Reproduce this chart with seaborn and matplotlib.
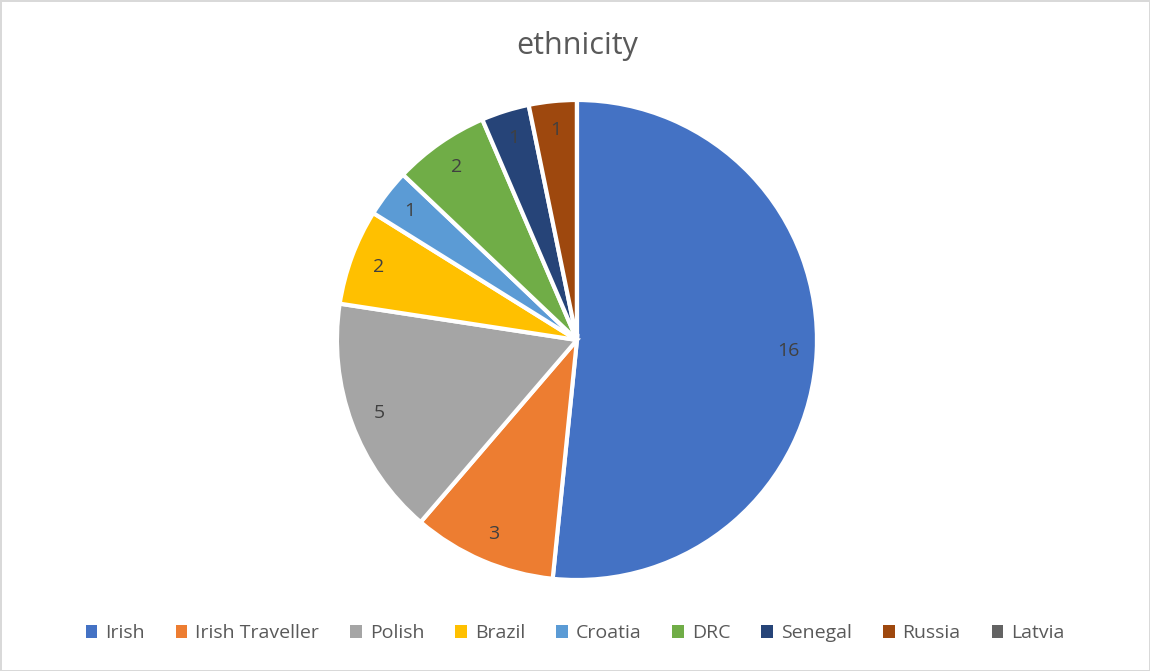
import matplotlib
matplotlib.use('Agg')
import matplotlib.pyplot as plt
import seaborn as sns

names = ['Irish', 'Irish Traveller', 'Polish', 'Brazil', 'Croatia', 'DRC', 'Senegal', 'Russia', 'Latvia']
counts = [16, 3, 5, 2, 1, 2, 1, 1, 0]
colors = ['#4472C4', '#ED7D31', '#A5A5A5', '#FFC000', '#5B9BD5', '#70AD47', '#264478', '#9E480E', '#636363']

sns.set_theme(style='white')
plt.rcParams['font.family'] = ['Open Sans', 'DejaVu Sans']

fig = plt.figure(figsize=(11.5, 6.71), dpi=100)
fig.patch.set_edgecolor('#D9D9D9')
fig.patch.set_linewidth(2)

ax = fig.add_axes([0.293, 0.1356, 0.4174, 0.7154])
labels = [str(c) if c > 0 else '' for c in counts]
wedges, texts = ax.pie(counts, colors=colors, labels=labels, labeldistance=0.88,
                       startangle=90, counterclock=False,
                       wedgeprops=dict(edgecolor='white', linewidth=3))
for t in texts:
    t.set_color('#404040')
    t.set_fontsize(14)
    t.set_ha('center')
    t.set_va('center')
ax.set_xlim(-1, 1)
ax.set_ylim(-1, 1)
ax.set_aspect('equal')

fig.text(0.502, 0.932, 'ethnicity', ha='center', va='center', fontsize=22, color='#595959')

# legend patches without white edges so the squares show fully
leg = fig.legend(wedges, names, loc='center', bbox_to_anchor=(0.5, 0.056), ncol=len(names),
                 frameon=False, fontsize=14, labelcolor='#595959',
                 handlelength=0.6, handleheight=0.6, handletextpad=0.4, columnspacing=1.6)
for h in leg.legend_handles:
    h.set_edgecolor('none')

fig.savefig('out.png', dpi=100)
